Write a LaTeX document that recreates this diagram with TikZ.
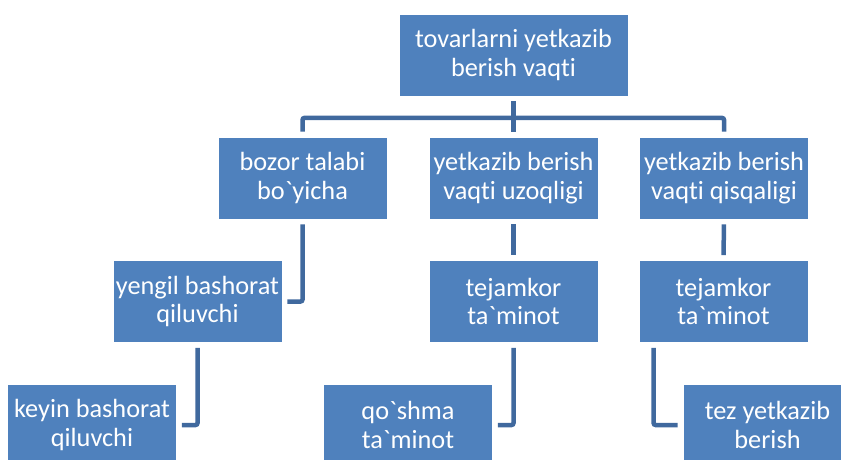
\documentclass[tikz,border=0pt]{standalone}
\usepackage{fontspec}
\setmainfont{Carlito}[Ligatures={TeXOff,NoCommon}]
\usepackage{tikz}
\usetikzlibrary{positioning}
\usepackage{xcolor}
\definecolor{boxblue}{RGB}{79,129,189}
\definecolor{linkblue}{RGB}{64,105,158}

\begin{document}
\begin{tikzpicture}[x=1pt,y=-1pt,
  tbox/.style={rectangle,draw=white,line width=0.8pt,fill=boxblue,text=white,
    font=\fontsize{26.3}{28.3}\selectfont,minimum width=169pt,minimum height=82pt,
    inner sep=0pt,align=center},
  tlink/.style={linkblue,line width=4.5pt,rounded corners=2pt,
    shorten <=5pt,shorten >=5pt}
]
\useasboundingbox (0,0) rectangle (841,459);
\clip (0,0) rectangle (841,459);
\node[tbox,minimum width=229pt] (top) at (513.5,55) {tovarlarni yetkazib\\berish vaqti};
\node[tbox] (b1) at (302.5,178) {bozor talabi\\bo`yicha};
\node[tbox] (b2) at (513.5,178) {yetkazib berish\\vaqti uzoqligi};
\node[tbox] (b3) at (724,178) {yetkazib berish\\vaqti qisqaligi};
\node[tbox] (y1) at (197.5,301.5) {yengil bashorat\\qiluvchi};
\node[tbox] (t1) at (513.5,301.5) {tejamkor\\ta`minot};
\node[tbox] (t2) at (723.5,301.5) {tejamkor\\ta`minot};
\node[tbox] (k1) at (92,425) {keyin bashorat\\qiluvchi};
\node[tbox] (q1) at (408,425) {qo`shma\\ta`minot};
\node[tbox] (z1) at (767.5,425) {tez yetkazib\\berish};
\foreach \c in {b1,b2,b3}
  \draw[tlink] (top.south) -- ++(0,21.5) -| (\c.north);
\draw[tlink] (b1.south) |- (y1.east);
\draw[tlink] (b2.south) -- (t1.north);
\draw[tlink] (b3.south) -- (t2.north);
\draw[tlink] (y1.south) |- (k1.east);
\draw[tlink] (t1.south) |- (q1.east);
\draw[tlink] ([xshift=15pt]t2.south west) |- (z1.west);
\end{tikzpicture}
\end{document}
